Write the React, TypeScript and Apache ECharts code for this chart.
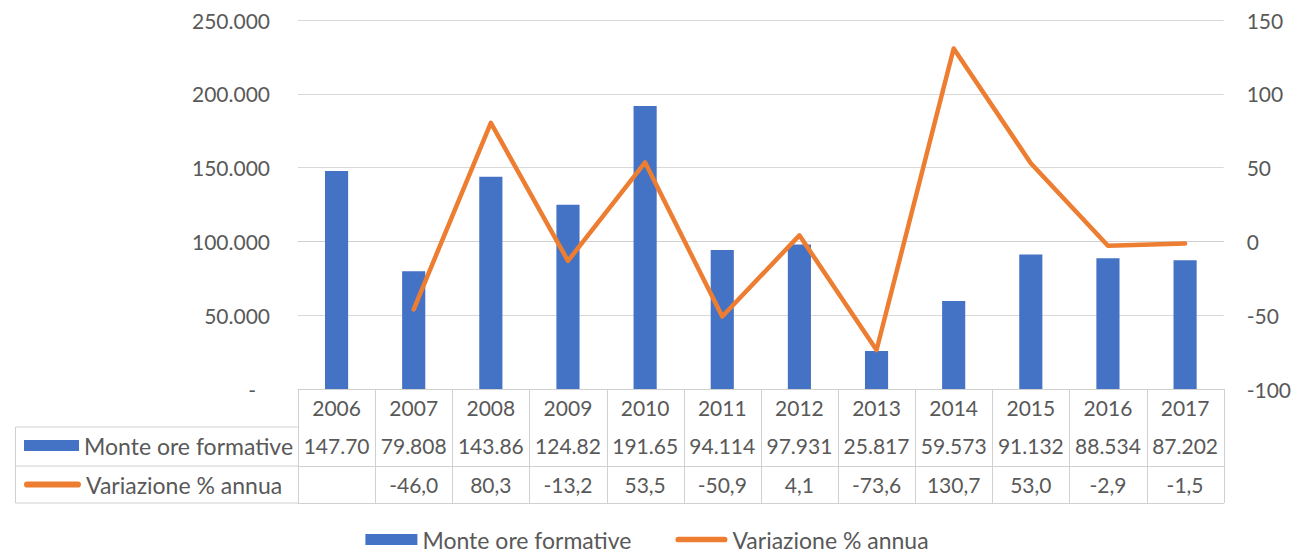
import React, { useEffect, useRef } from "react";
import * as echarts from "echarts";

const years = ["2006", "2007", "2008", "2009", "2010", "2011", "2012", "2013", "2014", "2015", "2016", "2017"];
const monteOre = [147700, 79808, 143860, 124820, 191650, 94114, 97931, 25817, 59573, 91132, 88534, 87202];
const variazione: (number | null)[] = [null, -46.0, 80.3, -13.2, 53.5, -50.9, 4.1, -73.6, 130.7, 53.0, -2.9, -1.5];
const leftTicks = { min: 0, max: 250000, interval: 50000 };
const rightTicks = { min: -100, max: 150, interval: 50 };

const BAR_NAME = "Monte ore formative";
const LINE_NAME = "Variazione % annua";

const FONT = "Lato, 'Open Sans', sans-serif";
const TXT = "#595959";
const LINE_GRAY = "#d9d9d9";
const TABLE_GRAY = "#d0d0d0";

function fmtThousands(v: number): string {
  const s = Math.round(v).toString();
  return s.replace(/\B(?=(\d{3})+(?!\d))/g, ".");
}
function fmtPct(v: number | null): string {
  if (v === null) return "";
  return v.toFixed(1).replace(".", ",");
}

const lineIcon = "path://M3,0 L52,0 A3,3 0 0 1 52,6 L3,6 A3,3 0 0 1 3,0 Z";

export default function App() {
  const ref = useRef<HTMLDivElement>(null);
  useEffect(() => {
    if (!ref.current) return;
    const chart = echarts.init(ref.current, undefined, { renderer: "svg" });
    const tableAxisBase = {
      type: "category" as const,
      position: "bottom" as const,
      boundaryGap: true,
      axisLine: { show: true, lineStyle: { color: TABLE_GRAY, width: 1 } },
      axisTick: { show: false },
      axisLabel: { interval: 0, margin: 8, fontSize: 21, color: TXT, fontFamily: FONT },
      splitLine: { show: false },
    };
    const legendText = { fontSize: 23, color: TXT, fontFamily: FONT };
    chart.setOption({
      animation: false,
      backgroundColor: "#ffffff",
      grid: { left: 298, right: 69, top: 20, bottom: 165, containLabel: false },
      textStyle: { fontFamily: FONT, color: TXT },
      legend: [
        {
          data: [
            { name: BAR_NAME, icon: "rect" },
            { name: LINE_NAME, icon: lineIcon },
          ],
          left: "center",
          bottom: -2,
          itemWidth: 52,
          itemHeight: 11,
          itemGap: 44,
          textStyle: legendText,
        },
        {
          data: [{ name: BAR_NAME, icon: "rect" }],
          left: 19,
          top: 429,
          itemWidth: 55,
          itemHeight: 11,
          textStyle: legendText,
        },
        {
          data: [{ name: LINE_NAME, icon: lineIcon }],
          left: 19,
          top: 468,
          itemWidth: 57,
          itemHeight: 11,
          textStyle: legendText,
        },
      ],
      xAxis: [
        { ...tableAxisBase, data: years },
        { ...tableAxisBase, offset: 38, data: monteOre.map((v) => fmtThousands(v).slice(0, 6)) },
        { ...tableAxisBase, offset: 77, data: variazione.map(fmtPct) },
        { ...tableAxisBase, offset: 114, data: years, axisLabel: { show: false } },
      ],
      yAxis: [
        {
          type: "value",
          ...leftTicks,
          axisLine: { show: false },
          axisTick: { show: false },
          splitLine: { show: true, lineStyle: { color: LINE_GRAY, width: 1 } },
          axisLabel: {
            margin: 28,
            fontSize: 21,
            color: TXT,
            fontFamily: FONT,
            formatter: (v: number) => (v === 0 ? "{d|-}" : fmtThousands(v)),
            rich: { d: { fontSize: 21, color: TXT, fontFamily: FONT, padding: [0, 14, 0, 0] } },
          },
        },
        {
          type: "value",
          ...rightTicks,
          position: "right",
          axisLine: { show: false },
          axisTick: { show: false },
          splitLine: { show: false },
          axisLabel: { margin: 23, fontSize: 21, color: TXT, fontFamily: FONT },
        },
      ],
      series: [
        {
          name: BAR_NAME,
          type: "bar",
          xAxisIndex: 0,
          yAxisIndex: 0,
          data: monteOre,
          barWidth: "30%",
          itemStyle: { color: "#4472C4" },
        },
        {
          name: LINE_NAME,
          type: "line",
          xAxisIndex: 0,
          yAxisIndex: 1,
          data: variazione,
          symbol: "none",
          color: "#ED7D31",
          lineStyle: { color: "#ED7D31", width: 4.5, join: "round", cap: "round" },
          itemStyle: { color: "#ED7D31" },
        },
      ],
    });

    // Table cell borders computed from the category axis scale.
    const x0 = chart.convertToPixel({ xAxisIndex: 0 }, 0) as number;
    const x1 = chart.convertToPixel({ xAxisIndex: 0 }, 1) as number;
    const band = x1 - x0;
    const yTop = chart.convertToPixel({ yAxisIndex: 0 }, leftTicks.min) as number;
    const yBottom = yTop + 114;
    const row1 = yTop + 38;
    const row2 = yTop + 77;
    const lineStyle = { stroke: TABLE_GRAY, lineWidth: 1 };
    const tableLines: any[] = [];
    for (let i = 0; i <= years.length; i++) {
      const x = Math.round(x0 - band / 2 + i * band) + 0.5;
      tableLines.push({ type: "line", z: 100, shape: { x1: x, y1: yTop, x2: x, y2: yBottom }, style: lineStyle });
    }
    const leftX = 15.5;
    const plotLeft = x0 - band / 2;
    [row1, row2, yBottom].forEach((y) => {
      tableLines.push({ type: "line", z: 100, shape: { x1: leftX, y1: y, x2: plotLeft, y2: y }, style: lineStyle });
    });
    tableLines.push({ type: "line", z: 100, shape: { x1: leftX, y1: row1, x2: leftX, y2: yBottom }, style: lineStyle });
    chart.setOption({ graphic: tableLines });

    return () => chart.dispose();
  }, []);
  return <div ref={ref} style={{ width: 1294, height: 554, position: "absolute", left: 0, top: 0 }} />;
}
